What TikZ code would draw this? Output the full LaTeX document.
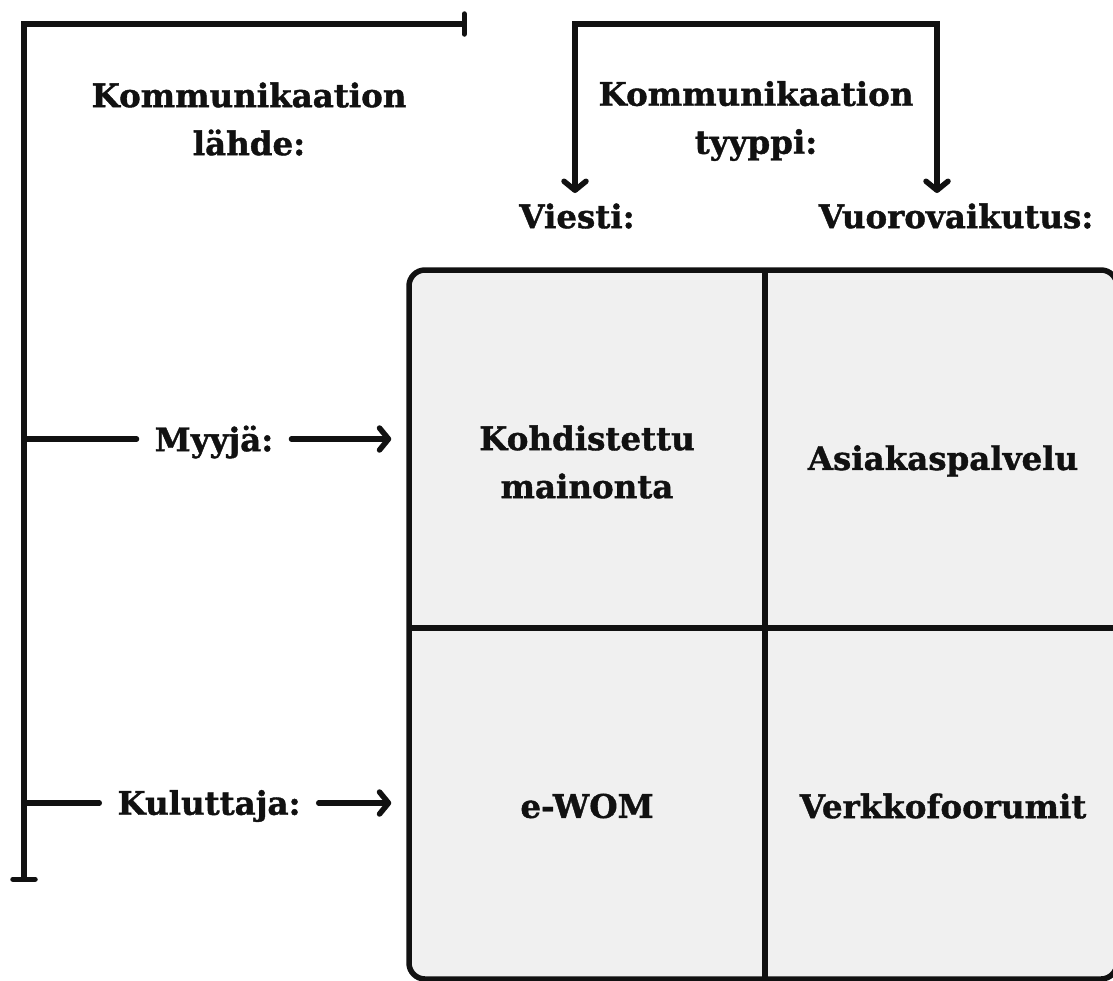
\documentclass[tikz,border=0pt]{standalone}
\usepackage{fontspec}
\setmainfont{DejaVu Serif}
\newfontfamily\heavyserif[FakeBold=1.2]{DejaVu Serif Bold}
\usetikzlibrary{arrows.meta}
\definecolor{cellgray}{HTML}{F0F0F0}
\definecolor{ink}{HTML}{111111}
\begin{document}
\begin{tikzpicture}[x=1pt,y=-1pt,
  lbl/.style={font=\heavyserif\fontsize{32.5}{48}\selectfont, align=center, inner sep=0pt, text=ink},
  sidelbl/.style={lbl, inner xsep=18pt},
  ln/.style={line width=5.5pt, line cap=round, line join=miter, draw=ink},
  arr/.style={ln, -{Straight Barb[length=9pt,width=22pt,line cap=round,line join=round]}},
  gridbox/.style={draw=ink, fill=cellgray, line width=5.5pt, rounded corners=16pt, inner sep=0pt},
]
\useasboundingbox (0,0) rectangle (1113,980);

% the 2x2 matrix
\node[gridbox, minimum width=708pt, minimum height=709pt] (box) at (763,624.5) {};
\coordinate (midtop) at (765,270);
\coordinate (midbot) at (765,979);
\coordinate (midleft) at (409,628);
\coordinate (midright) at (1117,628);
\draw[line width=5.5pt, draw=ink] (midtop) -- (midbot);
\draw[line width=5.5pt, draw=ink] (midleft) -- (midright);

% cell texts
\node[lbl] (c11) at (587,462) {Kohdistettu\\mainonta};
\node[lbl] (c12) at (943,461) {Asiakaspalvelu};
\node[lbl] (c21) at (587,806) {e-WOM};
\node[lbl] (c22) at (943,806) {Verkkofoorumit};

% source of communication
\node[lbl] (src) at (249,119) {Kommunikaation\\lähde:};
\coordinate (srctop) at (467,24);
\coordinate (srccorner) at (24,24);
\coordinate (srcbot) at (24,882);
\draw[ln, {Bar[width=20pt,line cap=round]}-{Bar[width=22pt,line cap=round]}]
  (srctop) -- (srccorner) -- (srcbot);

\node[sidelbl] (seller) at (214,442) {Myyjä:};
\node[sidelbl] (consumer) at (209,806) {Kuluttaja:};
\coordinate (sellerbar) at (24,439);
\coordinate (consumerbar) at (24,803);
\draw[ln] (sellerbar) -- (seller.west |- sellerbar);
\draw[ln] (consumerbar) -- (consumer.west |- consumerbar);
\draw[arr, shorten >=15pt] (seller.east |- sellerbar) -- (box.west |- sellerbar);
\draw[arr, shorten >=15pt] (consumer.east |- consumerbar) -- (box.west |- consumerbar);

% type of communication
\node[lbl] (type) at (756,121) {Kommunikaation\\tyyppi:};
\node[lbl] (msg) at (577,216) {Viesti:};
\node[lbl] (inter) at (956,216) {Vuorovaikutus:};
\coordinate (typel) at (575,24);
\coordinate (typer) at (937,24);
\coordinate (msgtip) at (575,193);
\coordinate (intertip) at (937,193);
\draw[ln, {Straight Barb[length=9pt,width=22pt,line cap=round,line join=round]}-{Straight Barb[length=9pt,width=22pt,line cap=round,line join=round]}]
  (msgtip) -- (typel) -- (typer) -- (intertip);
\end{tikzpicture}
\end{document}
